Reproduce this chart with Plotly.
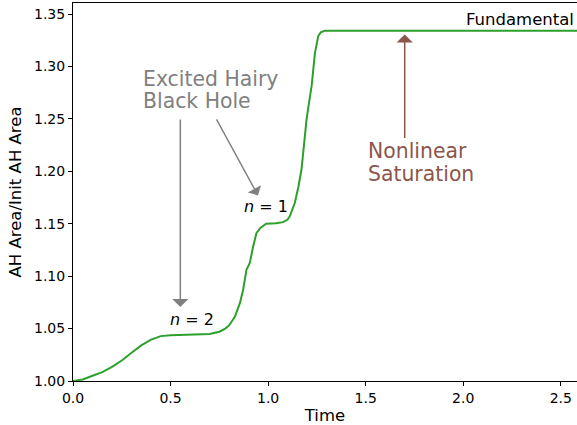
import plotly.graph_objects as go

time = [0.0, 0.05, 0.1, 0.15, 0.2, 0.25, 0.3, 0.35, 0.4, 0.45, 0.5, 0.55, 0.6, 0.65,
        0.7, 0.75, 0.78, 0.8, 0.83, 0.855, 0.872, 0.889, 0.906, 0.923, 0.94, 0.96,
        0.99, 1.04, 1.077, 1.1, 1.111, 1.137, 1.155, 1.171, 1.197, 1.21, 1.223,
        1.24, 1.257, 1.27, 1.29, 1.35, 1.5, 2.0, 2.583]
area = [1.000, 1.0015, 1.005, 1.0085, 1.0135, 1.0195, 1.027, 1.034, 1.0395, 1.0428,
        1.0437, 1.0439, 1.0441, 1.0443, 1.0448, 1.047, 1.050, 1.053, 1.0615, 1.074,
        1.087, 1.106, 1.1125, 1.128, 1.141, 1.146, 1.150, 1.1505, 1.1515, 1.154,
        1.157, 1.170, 1.185, 1.2017, 1.2495, 1.266, 1.2814, 1.313, 1.329, 1.3325,
        1.334, 1.334, 1.334, 1.334, 1.334]

x_ticks = [0.0, 0.5, 1.0, 1.5, 2.0, 2.5]
x_tick_labels = ["0.0", "0.5", "1.0", "1.5", "2.0", "2.5"]
y_ticks = [1.00, 1.05, 1.10, 1.15, 1.20, 1.25, 1.30, 1.35]
y_tick_labels = ["1.00", "1.05", "1.10", "1.15", "1.20", "1.25", "1.30", "1.35"]

FONT = "DejaVu Sans"
GRAY = "#808080"
BROWN = "#8c564b"

fig = go.Figure()
fig.add_trace(go.Scatter(x=time, y=area, mode="lines",
                         line=dict(color="#2ca02c", width=2), showlegend=False))


def label(x, y, text, color, size, xanchor="left"):
    return dict(x=x, y=y, text=text, showarrow=False, xanchor=xanchor,
                yanchor="middle", font=dict(family=FONT, size=size, color=color))


annotations = [
    # arrows
    dict(x=0.550, y=1.0705, ax=0.550, ay=1.2509, axref="x", ayref="y",
         showarrow=True, arrowhead=1, arrowsize=1.8, arrowwidth=1.5, arrowcolor=GRAY, text=""),
    dict(x=0.948, y=1.177, ax=0.7314, ay=1.2509, axref="x", ayref="y",
         showarrow=True, arrowhead=1, arrowsize=1.8, arrowwidth=1.4, arrowcolor=GRAY, text=""),
    dict(x=1.70, y=1.3305, ax=1.70, ay=1.2304, axref="x", ayref="y",
         showarrow=True, arrowhead=1, arrowsize=1.8, arrowwidth=1.5, arrowcolor=BROWN, text=""),
    # texts
    label(0.350, 1.2882, "Excited Hairy", GRAY, 20.4),
    label(0.350, 1.2670, "Black Hole", GRAY, 20.4),
    label(1.500, 1.2189, "Nonlinear", BROWN, 20.4),
    label(1.500, 1.1976, "Saturation", BROWN, 20.4),
    label(0.61, 1.0585, "<i>n</i> = 2", "black", 16, "center"),
    label(0.989, 1.1665, "<i>n</i> = 1", "black", 16, "center"),
    label(2.576, 1.3451, "Fundamental", "black", 16.5, "right"),
]

fig.update_layout(
    width=577, height=425,
    margin=dict(l=73, r=0, t=3, b=44, autoexpand=False),
    paper_bgcolor="white", plot_bgcolor="white",
    font=dict(family=FONT, size=14, color="black"),
    annotations=annotations,
    xaxis=dict(range=[0, 2.583], tickvals=x_ticks, ticktext=x_tick_labels,
               automargin=False,
               showgrid=False, zeroline=False, showline=True, linecolor="black",
               linewidth=1, mirror=True, ticks="outside", ticklen=4,
               tickcolor="black", tickfont=dict(family=FONT, size=14),
               title=dict(text="Time", font=dict(family=FONT, size=16.5), standoff=8)),
    yaxis=dict(range=[1.0, 1.3605], tickvals=y_ticks, ticktext=y_tick_labels,
               automargin=False,
               showgrid=False, zeroline=False, showline=True, linecolor="black",
               linewidth=1, ticks="outside", ticklen=4, tickcolor="black",
               tickfont=dict(family=FONT, size=14),
               title=dict(text="AH Area/Init AH Area", font=dict(family=FONT, size=16.5),
                          standoff=8)),
)

fig.write_html("out.html", config={"displayModeBar": False},
               post_script="document.body.style.margin='0px';document.body.style.overflow='hidden';")
